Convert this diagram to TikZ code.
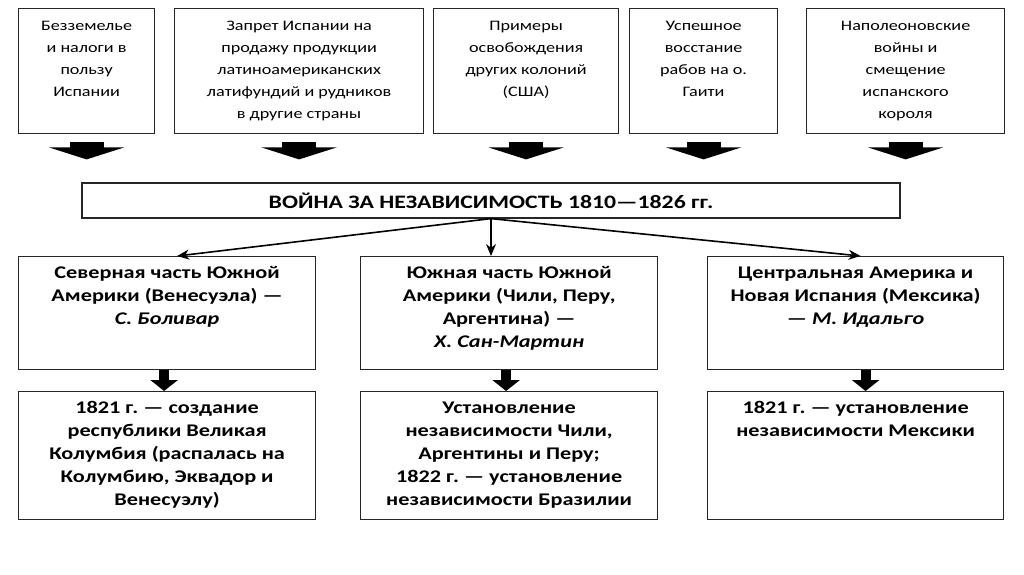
\documentclass[tikz,border=0pt]{standalone}
\usepackage{fontspec}
\setmainfont{Carlito}[FakeStretch=1.25]
\frenchspacing
\usetikzlibrary{positioning, arrows.meta}
\newcommand{\boxtext}[3]{\parbox[t][#2][t]{#1}{\centering\rule{0pt}{22pt}#3}}

\begin{document}
\begin{tikzpicture}[x=1pt, y=-1pt,
    cause/.style={draw=black!85, line width=1.2pt, inner sep=0pt, anchor=north west,
      font=\fontsize{14.5}{22}\selectfont},
    region/.style={cause, font=\bfseries\fontsize{17.8}{23}\selectfont},
    bigarrow/.style={-{Triangle[width=75pt, length=12pt]}, line width=34pt,
      shorten <=8pt, shorten >=23pt},
    smallarrow/.style={-{Triangle[width=27pt, length=11pt]}, line width=10pt},
    branch/.style={-{Stealth[length=12pt, width=10pt]}, line width=1.6pt},
  ]
    \useasboundingbox (0,0) rectangle (1024,574);
    % causes
    \node[cause] (c1) at (18,8) {\boxtext{136pt}{125pt}{Безземелье\\и налоги в\\пользу\\Испании}};
    \node[cause] (c2) at (174,8) {\boxtext{249pt}{125pt}{Запрет Испании на\\продажу продукции\\латиноамериканских\\латифундий и рудников\\в другие страны}};
    \node[cause] (c3) at (433,8) {\boxtext{185pt}{125pt}{Примеры\\освобождения\\других колоний\\(США)}};
    \node[cause] (c4) at (629,8) {\boxtext{148pt}{125pt}{Успешное\\восстание\\рабов на о.\\Гаити}};
    \node[cause] (c5) at (806,8) {\boxtext{198pt}{125pt}{Наполеоновские\\войны и\\смещение\\испанского\\короля}};
    % war
    \node[draw=black!85, line width=1.2pt, minimum width=818pt, minimum height=35pt,
      font=\bfseries\fontsize{19}{22}\selectfont] (war) at (491,200.5)
      {ВОЙНА ЗА НЕЗАВИСИМОСТЬ 1810—1826 гг.};
    \foreach \c in {c1,c2,c3,c4,c5}
      \draw[bigarrow] (\c.south) -- (\c.south |- war.north);
    % regions
    \node[region] (r1) at (18,256) {\boxtext{297pt}{113pt}{Северная часть Южной\\Америки (Венесуэла) —\\\textit{С. Боливар}}};
    \node[region] (r2) at (360,256) {\boxtext{297pt}{113pt}{Южная часть Южной\\Америки (Чили, Перу,\\Аргентина) —\\\textit{Х. Сан-Мартин}}};
    \node[region] (r3) at (707,256) {\boxtext{296pt}{113pt}{Центральная Америка и\\Новая Испания (Мексика)\\— \textit{М. Идальго}}};
    \draw[branch] (war.south) -- ([xshift=10pt]r1.north);
    \draw[branch] (war.south) -- (war.south |- r2.north);
    \draw[branch] (war.south) -- ([xshift=5pt]r3.north);
    % results
    \node[region] (b1) at (18,391) {\boxtext{297pt}{128pt}{1821 г. — создание\\республики Великая\\Колумбия (распалась на\\Колумбию, Эквадор и\\Венесуэлу)}};
    \node[region] (b2) at (360,391) {\boxtext{297pt}{128pt}{Установление\\независимости Чили,\\Аргентины и Перу;\\1822 г. — установление\\независимости Бразилии}};
    \node[region] (b3) at (707,391) {\boxtext{296pt}{128pt}{1821 г. — установление\\независимости Мексики}};
    \draw[smallarrow] ([xshift=-3pt]r1.south) -- ([xshift=-3pt]b1.north);
    \draw[smallarrow] ([xshift=-3pt]r2.south) -- ([xshift=-3pt]b2.north);
    \draw[smallarrow] ([xshift=10pt]r3.south) -- ([xshift=10pt]b3.north);
  \end{tikzpicture}
\end{document}
